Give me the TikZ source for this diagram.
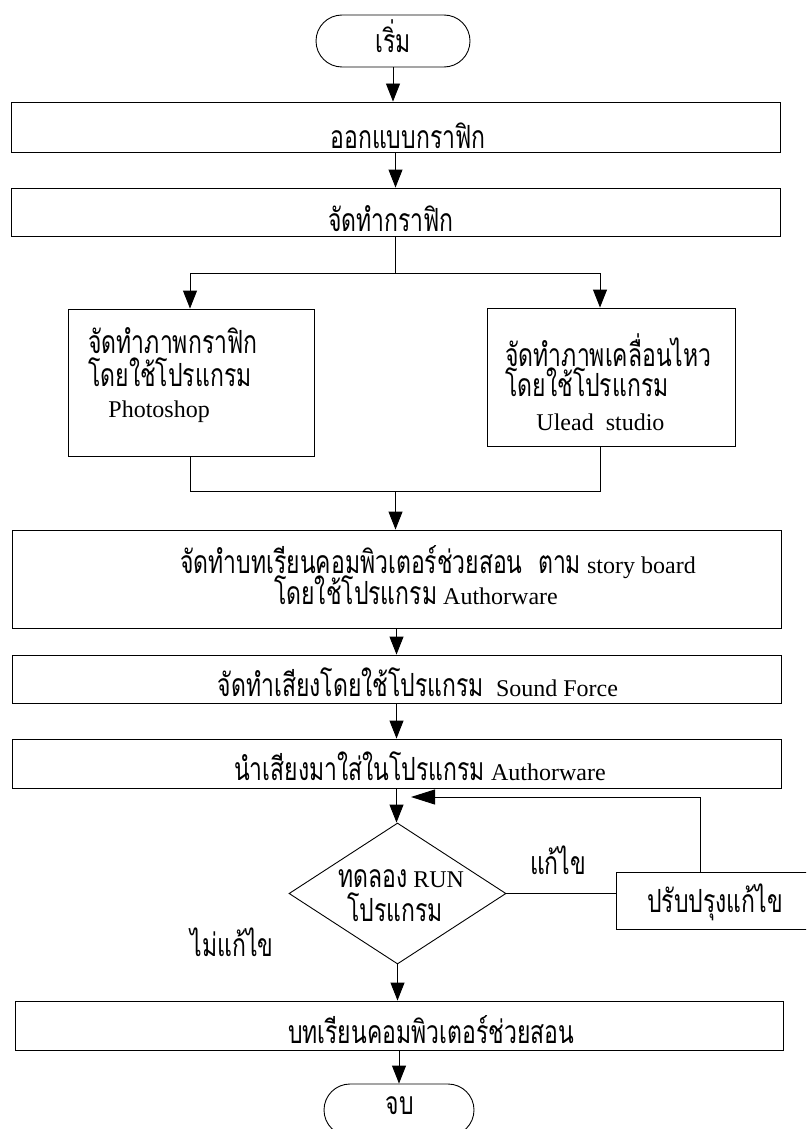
\documentclass[tikz,border=0pt]{standalone}
\usepackage{fontspec}
\setmainfont{Liberation Serif}
\newfontfamily\thaifnt[Script=Thai,FakeStretch=0.72,Scale=1.33]{Loma}
\usetikzlibrary{shapes.geometric,shapes.misc,arrows.meta}
\begin{document}
\begin{tikzpicture}[x=1pt,y=-1pt,line width=0.9pt,
  proc/.style={draw,rectangle,inner sep=0pt},
  term/.style={draw,rounded rectangle,inner sep=0pt},
  dec/.style={draw,diamond,inner sep=0pt},
  txt/.style={inner sep=0pt,font=\fontsize{24}{28}\selectfont},
  arr/.style={-{Triangle[length=18pt,width=14pt]}},
  arrfb/.style={-{Triangle[length=24pt,width=15pt]}}]
\useasboundingbox (0,0) rectangle (806,1129);
\clip (0,0) rectangle (806,1129);
% shapes
\node[term,minimum width=154pt,minimum height=52pt] (start) at (393,41) {};
\node[proc,minimum width=769pt,minimum height=50pt] (b1) at (395.5,127) {};
\node[proc,minimum width=769pt,minimum height=48pt] (b2) at (395.5,212) {};
\node[proc,minimum width=246pt,minimum height=147pt] (bl) at (191,382.5) {};
\node[proc,minimum width=248pt,minimum height=138pt] (br) at (611,377) {};
\node[proc,minimum width=769pt,minimum height=98pt] (b3) at (396.5,579) {};
\node[proc,minimum width=769pt,minimum height=48pt] (b4) at (396.5,679) {};
\node[proc,minimum width=769pt,minimum height=49pt] (b5) at (396.5,763.5) {};
\node[dec,minimum width=217pt,minimum height=141pt] (dia) at (397.5,893.5) {};
\node[proc,minimum width=214pt,minimum height=57pt] (fix) at (723,900.5) {};
\node[proc,minimum width=768pt,minimum height=49pt] (b6) at (399,1025.5) {};
\node[term,minimum width=150pt,minimum height=52pt] (end) at (399,1110) {};
% texts
\node[txt,anchor=base] (tstart) at (393,53) {\thaifnt เริ่ม};
\node[txt,anchor=base] (t1) at (408,148) {\thaifnt ออกแบบกราฟิก};
\node[txt,anchor=base] (t2) at (391,231) {\thaifnt จัดทำกราฟิก};
\node[txt,anchor=base west] (tl1) at (88,353) {\thaifnt จัดทำภาพกราฟิก};
\node[txt,anchor=base west,text depth=2pt] (tl2) at (88,386) {\thaifnt โดยใช้โปรแกรม};
\node[txt,anchor=base west] (tl3) at (108,417) {Photoshop};
\node[txt,anchor=base west] (tr1) at (505,366) {\thaifnt จัดทำภาพเคลื่อนไหว};
\node[txt,anchor=base west,text depth=2pt] (tr2) at (505,396) {\thaifnt โดยใช้โปรแกรม};
\node[txt,anchor=base west] (tr3) at (536,430) {Ulead\ \ studio};
\node[txt,anchor=base] (t3a) at (438,573) {{\thaifnt จัดทำบทเรียนคอมพิวเตอร์ช่วยสอน\ \ ตาม} story board};
\node[txt,anchor=base] (t3b) at (416,604) {{\thaifnt โดยใช้โปรแกรม} Authorware};
\node[txt,anchor=base] (t4) at (418,696) {{\thaifnt จัดทำเสียงโดยใช้โปรแกรม}\ \ Sound Force};
\node[txt,anchor=base] (t5) at (420,780) {{\thaifnt นำเสียงมาใส่ในโปรแกรม} Authorware};
\node[txt,anchor=base] (td1) at (401,887) {{\thaifnt ทดลอง} RUN};
\node[txt,anchor=base] (td2) at (395,921) {\thaifnt โปรแกรม};
\node[txt,anchor=base] (tfix) at (715,912) {\thaifnt ปรับปรุงแก้ไข};
\node[txt,anchor=base] (tyes) at (558,874) {\thaifnt แก้ไข};
\node[txt,anchor=base] (tno) at (232,956) {\thaifnt ไม่แก้ไข};
\node[txt,anchor=base] (t6) at (431,1043) {\thaifnt บทเรียนคอมพิวเตอร์ช่วยสอน};
\node[txt,anchor=base,text depth=1pt] (tend) at (400,1114) {\thaifnt จบ};
% helper coordinates
\coordinate (ysplit) at (0,273);
\coordinate (ymerge) at (0,491);
\coordinate (xl) at (190,0);
\coordinate (xr) at (600,0);
\coordinate (yfb) at (0,797);
\coordinate (xfb) at (700,0);
\coordinate (fbtip) at (411,797);
% connectors
\draw[arr] (start.south) -- (start.south |- b1.north);
\draw[arr] (b1.south) -- (b1.south |- b2.north);
\draw (b2.south) -- (b2.south |- ysplit);
\draw (xl |- ysplit) -- (xr |- ysplit);
\draw[arr] (xl |- ysplit) -- (xl |- bl.north);
\draw[arr] (xr |- ysplit) -- (xr |- br.north);
\draw (xl |- bl.south) -- (xl |- ymerge) -- (xr |- ymerge) -- (xr |- br.south);
\draw[arr] (b2.south |- ymerge) -- (b2.south |- b3.north);
\draw[arr] (b3.south) -- (b3.south |- b4.north);
\draw[arr] (b4.south) -- (b4.south |- b5.north);
\draw[arr] (b5.south) -- (b5.south |- dia.north);
\draw (dia.east) -- (dia.east -| fix.west);
\draw[arrfb] (xfb |- fix.north) -- (xfb |- yfb) -- (fbtip);
\draw[arr] (dia.south) -- (dia.south |- b6.north);
\draw[arr] (b6.south) -- (b6.south |- end.north);
\end{tikzpicture}
\end{document}
